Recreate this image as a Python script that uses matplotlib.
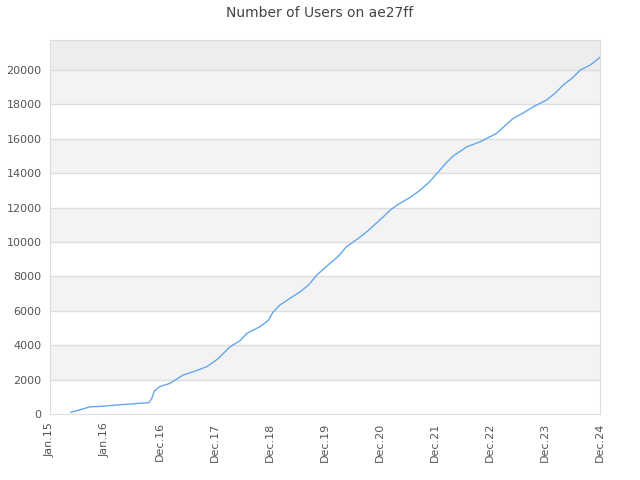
# Number of users over time, line chart with alternating bands
import matplotlib.pyplot as plt
import numpy as np

# x in tick units (0 = Jan.15, 10 = Dec.24)
x = [0.38, 0.55, 0.73, 0.9, 1.21, 1.5, 1.8, 1.85, 1.9, 2.0, 2.18, 2.42, 2.6,
     2.85, 3.05, 3.27, 3.45, 3.58, 3.82, 3.97, 4.05, 4.18, 4.35, 4.55, 4.7,
     4.85, 5.09, 5.25, 5.39, 5.6, 5.76, 5.9, 6.06, 6.2, 6.36, 6.55, 6.73,
     6.9, 7.09, 7.2, 7.33, 7.58, 7.82, 7.94, 8.12, 8.25, 8.42, 8.6, 8.79,
     9.03, 9.18, 9.33, 9.5, 9.64, 9.82, 10.0]
users = [100, 250, 420, 440, 520, 590, 660, 900, 1350, 1600, 1780, 2270, 2450,
         2750, 3200, 3900, 4250, 4690, 5080, 5450, 5900, 6340, 6700, 7110, 7500,
         8080, 8760, 9200, 9730, 10200, 10600, 11000, 11470, 11900, 12250, 12600,
         13020, 13500, 14190, 14600, 15000, 15540, 15830, 16030, 16320, 16700,
         17190, 17500, 17870, 18260, 18650, 19130, 19550, 20000, 20290, 20740]

xlabels = ['Jan.15', 'Jan.16', 'Dec.16', 'Dec.17', 'Dec.18', 'Dec.19',
           'Dec.20', 'Dec.21', 'Dec.22', 'Dec.23', 'Dec.24']
yticks = [0, 2000, 4000, 6000, 8000, 10000, 12000, 14000, 16000, 18000, 20000]
ymax = 21750

fig = plt.figure(figsize=(6.4, 4.8), dpi=100)
ax = fig.add_axes([50/640, 1 - 414/480, 550/640, 374/480])

# alternating bands
for lo in range(2000, 20000, 4000):
    ax.axhspan(lo, lo + 2000, color='#f3f3f3', zorder=0, lw=0)
ax.axhspan(20000, ymax, color='#ededed', zorder=0, lw=0)
for t in yticks[1:]:
    ax.axhline(t, color='#dddddd', lw=1, zorder=1)

ax.plot(x, users, color='#63a7ee', lw=1.0, zorder=3)

ax.set_xlim(0, 10)
ax.set_ylim(0, ymax)
ax.set_xticks(range(11))
ax.set_xticklabels(xlabels, rotation=90)
ax.set_yticks(yticks)
ax.tick_params(length=0, labelsize=8, labelcolor='#555555', pad=6)
for s in ax.spines.values():
    s.set_color('#dddddd')

fig.suptitle('Number of Users on ae27ff', y=0.988, fontsize=10, color='#444444')
fig.savefig('out.png')
